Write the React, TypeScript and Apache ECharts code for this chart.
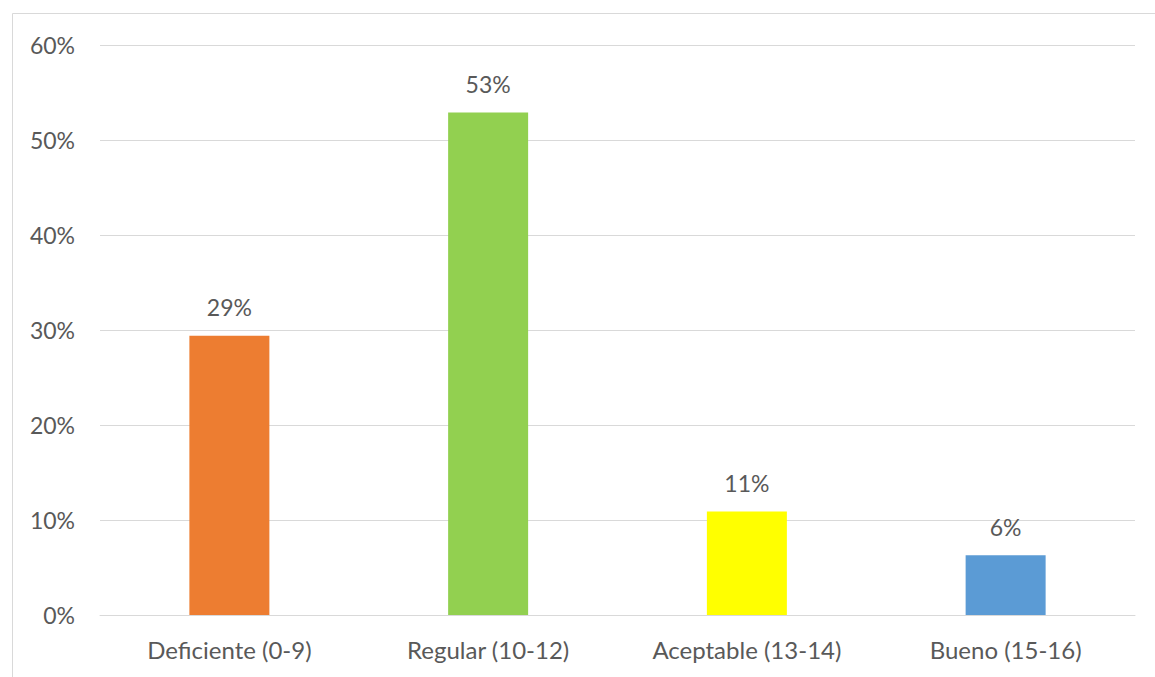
import React, { useEffect, useRef } from "react";
import * as echarts from "echarts";

const categories = ["Deficiente (0-9)", "Regular (10-12)", "Aceptable (13-14)", "Bueno (15-16)"];
const values = [0.294, 0.529, 0.109, 0.063];
const barColors = ["#ED7D31", "#92D050", "#FFFF00", "#5B9BD5"];

const FONT = "Lato";
const TEXT = "#595959";

export default function App() {
  const ref = useRef<HTMLDivElement>(null);
  useEffect(() => {
    if (!ref.current) return;
    const chart = echarts.init(ref.current, undefined, { renderer: "svg" });
    chart.setOption({
      animation: false,
      backgroundColor: "#ffffff",
      graphic: [
        {
          type: "rect",
          shape: { x: 12.5, y: 13.5, width: 1200, height: 700 },
          style: { fill: "none", stroke: "#d9d9d9", lineWidth: 1 },
          silent: true,
        },
      ],
      grid: { left: 100, right: 20, top: 45, bottom: 62, containLabel: false },
      xAxis: {
        type: "category",
        data: categories,
        axisLine: { show: true, lineStyle: { color: "#d9d9d9", width: 1 } },
        axisTick: { show: false },
        axisLabel: { color: TEXT, fontFamily: FONT, fontSize: 24, margin: 22 },
      },
      yAxis: {
        type: "value",
        min: 0,
        max: 0.6,
        interval: 0.1,
        axisLine: { show: false },
        axisTick: { show: false },
        splitLine: { lineStyle: { color: "#d9d9d9", width: 1 } },
        axisLabel: {
          color: TEXT,
          fontFamily: FONT,
          fontSize: 23,
          margin: 25,
          formatter: (v: number) => Math.round(v * 100) + "%",
        },
      },
      series: [
        {
          type: "bar",
          data: values.map((v, i) => ({ value: v, itemStyle: { color: barColors[i] } })),
          barWidth: 80,
          label: {
            show: true,
            position: "top",
            distance: 17,
            color: TEXT,
            fontFamily: FONT,
            fontSize: 23,
            formatter: (p: any) => Math.round(p.value * 100) + "%",
          },
        },
      ],
    });
    return () => chart.dispose();
  }, []);
  return (
    <div
      ref={ref}
      style={{ position: "fixed", left: 0, top: 0, width: 1155, height: 677 }}
    />
  );
}
